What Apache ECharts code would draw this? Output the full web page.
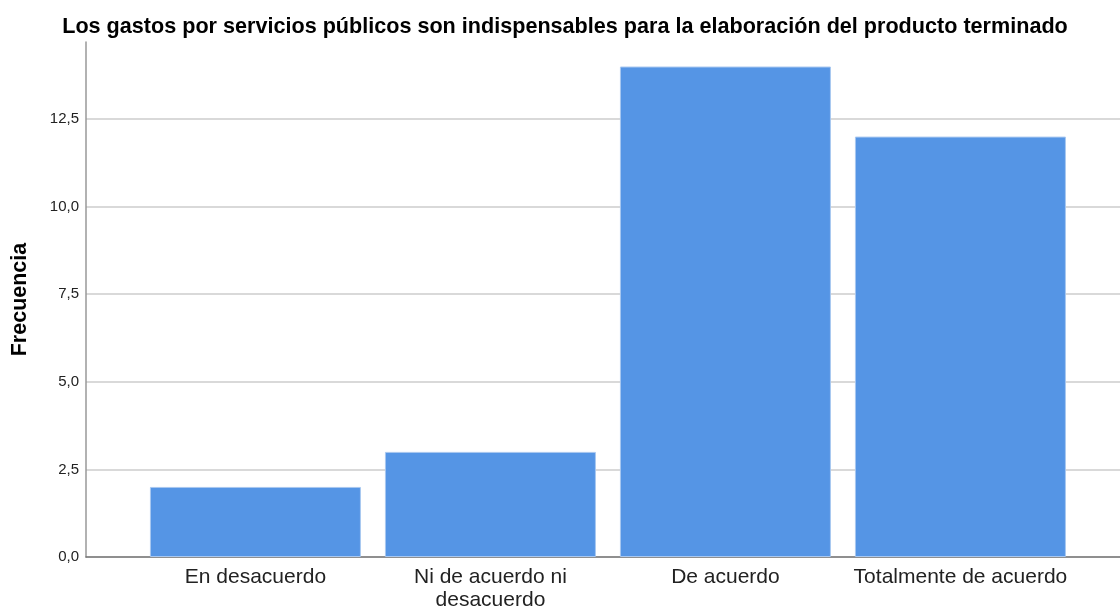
<!DOCTYPE html>
<html><head><meta charset="utf-8">
<script src="https://cdn.jsdelivr.net/npm/echarts@6/dist/echarts.min.js"></script>
<style>html,body{margin:0;padding:0;background:#fff}#c{width:1120px;height:609px}</style>
</head><body><div id="c"></div>
<script>
const categories = ["En desacuerdo", "Ni de acuerdo ni\ndesacuerdo", "De acuerdo", "Totalmente de acuerdo"];
const frecuencia = [2, 3, 14, 12];
const yTicks = [0, 2.5, 5, 7.5, 10, 12.5];
const titleText = "Los gastos por servicios públicos son indispensables para la elaboración del producto terminado";

const chart = echarts.init(document.getElementById('c'));
const fmt = v => v.toFixed(1).replace('.', ',');
chart.setOption({
  animation: false,
  title: {
    text: titleText, left: 560, top: 11, textAlign: 'center',
    textStyle: { fontFamily: 'Liberation Sans', fontSize: 21.6, fontWeight: 'bold', color: '#000' }
  },
  grid: { left: 86, right: 0, top: 42, bottom: 52, outerBoundsMode: 'none', containLabel: false },
  xAxis: {
    type: 'value', min: -0.721, max: 3.679,
    axisLine: { show: true, onZero: false, lineStyle: { color: '#777', width: 1.5 } },
    axisTick: { show: false },
    splitLine: { show: false },
    axisLabel: {
      customValues: categories.map((c, i) => i),
      formatter: v => categories[Math.round(v)],
      fontFamily: 'Liberation Sans', fontSize: 21, color: '#222', margin: 9, lineHeight: 23
    }
  },
  yAxis: {
    type: 'value', min: 0, max: 14.7, interval: 2.5,
    name: 'Frecuencia', nameLocation: 'middle', nameGap: 55, nameRotate: 90,
    nameTextStyle: { fontFamily: 'Liberation Sans', fontSize: 21.5, fontWeight: 'bold', color: '#000' },
    axisLine: { show: true, onZero: false, lineStyle: { color: '#999', width: 1.5 } },
    axisTick: { show: false },
    splitLine: { show: true, showMaxLine: false, lineStyle: { color: '#ccc', width: 1.5 } },
    axisLabel: {
      showMaxLabel: false,
      formatter: v => yTicks.includes(v) ? fmt(v) : '',
      fontFamily: 'Liberation Sans', fontSize: 15, color: '#222', margin: 7
    }
  },
  series: [{
    type: 'bar', barWidth: 211,
    data: frecuencia.map((v, i) => [i, v]),
    itemStyle: { color: '#5595E5', borderColor: '#A9C8F0', borderWidth: 1 }
  }]
});
</script></body></html>
